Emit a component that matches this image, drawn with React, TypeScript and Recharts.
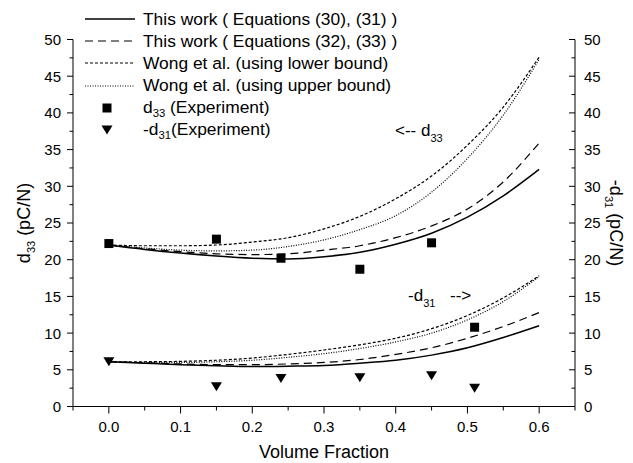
import { ComposedChart, Line, Scatter, XAxis, YAxis, Legend } from 'recharts';

const FONT = 'Arial, "Liberation Sans", sans-serif';

// volume fraction grid for the model curves
const fractions = [0, 0.05, 0.1, 0.15, 0.2, 0.25, 0.3, 0.35, 0.4, 0.45, 0.5, 0.55, 0.6];

// d33 model curves (pC/N)
const d33Eq30 = [22.0, 21.4, 20.9, 20.5, 20.2, 20.1, 20.4, 21.0, 22.1, 23.6, 25.8, 28.7, 32.3];
const d33Eq32 = [22.0, 21.5, 21.1, 20.8, 20.7, 20.8, 21.3, 21.9, 23.0, 24.6, 26.9, 30.6, 35.9];
const d33WongLower = [22.0, 21.9, 21.9, 22.0, 22.4, 23.0, 24.2, 25.9, 28.3, 31.4, 35.6, 40.8, 47.6];
const d33WongUpper = [22.0, 21.6, 21.3, 21.2, 21.3, 21.8, 22.7, 24.1, 26.0, 29.2, 33.8, 39.7, 47.3];

// -d31 model curves (pC/N)
const d31Eq31 = [6.1, 5.9, 5.7, 5.55, 5.45, 5.5, 5.6, 5.9, 6.3, 7.0, 8.0, 9.4, 11.0];
const d31Eq33 = [6.1, 5.95, 5.8, 5.7, 5.7, 5.8, 6.0, 6.4, 7.1, 8.0, 9.3, 10.9, 12.8];
const d31WongLower = [6.1, 6.1, 6.15, 6.3, 6.6, 7.1, 7.7, 8.4, 9.3, 10.6, 12.4, 14.8, 17.8];
const d31WongUpper = [6.1, 6.0, 6.0, 6.1, 6.3, 6.7, 7.2, 7.9, 8.8, 10.0, 11.8, 14.3, 17.7];

// experiments
const expFractions = [0, 0.15, 0.24, 0.35, 0.45, 0.51];
const expD33 = [22.2, 22.8, 20.2, 18.7, 22.3, 10.8];
const expD31 = [6.1, 2.7, 3.8, 3.9, 4.2, 2.5];

const xTicks = [-0.05, 0, 0.05, 0.1, 0.15, 0.2, 0.25, 0.3, 0.35, 0.4, 0.45, 0.5, 0.55, 0.6, 0.65];
const yTicks = [0, 2.5, 5, 7.5, 10, 12.5, 15, 17.5, 20, 22.5, 25, 27.5, 30, 32.5, 35, 37.5, 40, 42.5, 45, 47.5, 50];

const legendLabels = [
  'This work ( Equations (30), (31) )',
  'This work ( Equations (32), (33) )',
  'Wong et al. (using lower bound)',
  'Wong et al. (using upper bound)',
  'd_33 (Experiment)',
  '-d_31(Experiment)',
];
const legendKinds = ['solid', 'dash', 'short', 'dot', 'square', 'triangle'];

const dashes: Record<string, string | undefined> = {
  solid: undefined,
  dash: '8 5',
  short: '3 2',
  dot: '1 1.5',
};

const curveRows = fractions.map((x, i) => ({
  x,
  eq30: d33Eq30[i],
  eq32: d33Eq32[i],
  lower33: d33WongLower[i],
  upper33: d33WongUpper[i],
  eq31: d31Eq31[i],
  eq33: d31Eq33[i],
  lower31: d31WongLower[i],
  upper31: d31WongUpper[i],
}));
const d33Points = expFractions.map((x, i) => ({ x, y: expD33[i] }));
const d31Points = expFractions.map((x, i) => ({ x, y: expD31[i] }));

const isMajor = (v: number, step: number) => Math.abs(v / step - Math.round(v / step)) < 1e-6;

function withSub(text: string) {
  const m = text.match(/^(.*?)_(\d+)(.*)$/);
  if (!m) return text;
  return (
    <>
      {m[1]}
      <sub style={{ fontSize: '0.65em', verticalAlign: '-0.35em' }}>{m[2]}</sub>
      {m[3]}
    </>
  );
}

function XTick({ x, y, payload }: any) {
  const v = payload.value;
  const major = isMajor(v, 0.1) && v >= 0 && v <= 0.6;
  return (
    <g>
      <line x1={x} x2={x} y1={y} y2={y + (major ? 7 : 4)} stroke="#000" />
      {major && (
        <text x={x} y={y + 25} textAnchor="middle" fontSize={15} fontFamily={FONT} fill="#000">
          {v.toFixed(1)}
        </text>
      )}
    </g>
  );
}

function LeftTick({ x, y, payload }: any) {
  const v = payload.value;
  const major = isMajor(v, 5);
  return (
    <g>
      <line x1={x - (major ? 6 : 3.5)} x2={x} y1={y} y2={y} stroke="#000" />
      {major && (
        <text x={x - 12} y={y} dy="0.36em" textAnchor="end" fontSize={15} fontFamily={FONT} fill="#000">
          {v}
        </text>
      )}
    </g>
  );
}

function RightTick({ x, y, payload }: any) {
  const v = payload.value;
  const major = isMajor(v, 5);
  return (
    <g>
      <line x1={x - (major ? 6 : 3.5)} x2={x} y1={y} y2={y} stroke="#000" />
      {major && (
        <text x={x + 9} y={y} dy="0.36em" textAnchor="start" fontSize={15} fontFamily={FONT} fill="#000">
          {v}
        </text>
      )}
    </g>
  );
}

const Square = ({ cx, cy }: any) => <rect x={cx - 4.5} y={cy - 4.5} width={9} height={9} fill="#000" />;
const Triangle = ({ cx, cy }: any) => (
  <path d={`M${cx - 5.5},${cy - 4.5} L${cx + 5.5},${cy - 4.5} L${cx},${cy + 4.5} Z`} fill="#000" />
);

function LegendContent() {
  return (
    <div style={{ fontFamily: FONT, fontSize: 17.4, color: '#000' }}>
      {legendLabels.map((label, i) => {
        const kind = legendKinds[i];
        return (
          <div key={label} style={{ display: 'flex', alignItems: 'center', height: 22.2, whiteSpace: 'nowrap' }}>
            <svg width={58} height={22} style={{ flex: 'none' }}>
              {kind === 'square' && <rect x={17.5} y={6.5} width={9} height={9} fill="#000" />}
              {kind === 'triangle' && <path d="M16.5,6.5 L27.5,6.5 L22,15.5 Z" fill="#000" />}
              {dashes[kind] !== undefined || kind === 'solid' ? (
                <line x1={0} x2={50} y1={11} y2={11} stroke="#000" strokeWidth={kind === 'solid' ? 1.5 : 1.2} strokeDasharray={dashes[kind]} />
              ) : null}
            </svg>
            <span>{withSub(label)}</span>
          </div>
        );
      })}
    </div>
  );
}

const LeftTitle = ({ viewBox }: any) => {
  const cx = 30;
  const cy = viewBox.y + viewBox.height / 2;
  return (
    <text x={cx} y={cy} transform={`rotate(-90 ${cx} ${cy})`} textAnchor="middle" fontSize={18} fontFamily={FONT} fill="#000">
      <tspan>d</tspan>
      <tspan fontSize={11} dy={5}>33</tspan>
      <tspan dy={-5}> (pC/N)</tspan>
    </text>
  );
};

const RightTitle = ({ viewBox }: any) => {
  const cx = 610;
  const cy = viewBox.y + viewBox.height / 2;
  return (
    <text x={cx} y={cy} transform={`rotate(90 ${cx} ${cy})`} textAnchor="middle" fontSize={18} fontFamily={FONT} fill="#000">
      <tspan>-d</tspan>
      <tspan fontSize={11} dy={5}>31</tspan>
      <tspan dy={-5}> (pC/N)</tspan>
    </text>
  );
};

const BottomTitle = ({ viewBox }: any) => (
  <text x={viewBox.x + viewBox.width / 2} y={458} textAnchor="middle" fontSize={18} fontFamily={FONT} fill="#000">
    Volume Fraction
  </text>
);

export default function App() {
  return (
    <div style={{ position: 'absolute', left: 0, top: 0, width: 633, height: 463, background: '#fff' }}>
      <ComposedChart width={633} height={463} data={curveRows} margin={{ top: 39.5, right: 18, bottom: 26.5, left: 13 }}>
        <XAxis
          dataKey="x"
          type="number"
          domain={[-0.05, 0.65]}
          ticks={xTicks}
          interval={0}
          height={30}
          tickSize={0}
          tickMargin={0}
          tickLine={false}
          axisLine={{ stroke: '#000' }}
          tick={<XTick />}
          label={{ content: <BottomTitle /> }}
        />
        <YAxis
          yAxisId="left"
          type="number"
          domain={[0, 50]}
          ticks={yTicks}
          interval={0}
          width={60}
          tickSize={0}
          tickMargin={0}
          tickLine={false}
          axisLine={{ stroke: '#000' }}
          tick={<LeftTick />}
          label={{ content: <LeftTitle /> }}
        />
        <YAxis
          yAxisId="right"
          orientation="right"
          type="number"
          domain={[0, 50]}
          ticks={yTicks}
          interval={0}
          width={40}
          tickSize={0}
          tickMargin={0}
          tickLine={false}
          axisLine={{ stroke: '#000' }}
          tick={<RightTick />}
          label={{ content: <RightTitle /> }}
        />
        <Legend
          layout="horizontal"
          verticalAlign="middle"
          align="center"
          content={<LegendContent />}
          wrapperStyle={{ left: 85, top: 8, width: 340, height: 140 }}
        />
        <Line yAxisId="left" dataKey="eq30" type="monotone" stroke="#000" strokeWidth={1.5} dot={false} isAnimationActive={false} />
        <Line yAxisId="left" dataKey="eq32" type="monotone" stroke="#000" strokeWidth={1.2} strokeDasharray="8 5" dot={false} isAnimationActive={false} />
        <Line yAxisId="left" dataKey="lower33" type="monotone" stroke="#000" strokeWidth={1.2} strokeDasharray="3 2" dot={false} isAnimationActive={false} />
        <Line yAxisId="left" dataKey="upper33" type="monotone" stroke="#000" strokeWidth={1.2} strokeDasharray="1 1.5" dot={false} isAnimationActive={false} />
        <Line yAxisId="right" dataKey="eq31" type="monotone" stroke="#000" strokeWidth={1.5} dot={false} isAnimationActive={false} />
        <Line yAxisId="right" dataKey="eq33" type="monotone" stroke="#000" strokeWidth={1.2} strokeDasharray="8 5" dot={false} isAnimationActive={false} />
        <Line yAxisId="right" dataKey="lower31" type="monotone" stroke="#000" strokeWidth={1.2} strokeDasharray="3 2" dot={false} isAnimationActive={false} />
        <Line yAxisId="right" dataKey="upper31" type="monotone" stroke="#000" strokeWidth={1.2} strokeDasharray="1 1.5" dot={false} isAnimationActive={false} />
        <Scatter yAxisId="left" data={d33Points} dataKey="y" shape={Square} isAnimationActive={false} />
        <Scatter yAxisId="right" data={d31Points} dataKey="y" shape={Triangle} isAnimationActive={false} />
        <text x={395} y={136} fontSize={17} fontFamily={FONT} fill="#000">
          <tspan>{'<-- d'}</tspan>
          <tspan fontSize={11} dy={6}>33</tspan>
        </text>
        <text x={408} y={301} fontSize={17} fontFamily={FONT} fill="#000">
          <tspan>-d</tspan>
          <tspan fontSize={11} dy={6}>31</tspan>
          <tspan x={450} dy={-6}>{'-->'}</tspan>
        </text>
      </ComposedChart>
    </div>
  );
}
